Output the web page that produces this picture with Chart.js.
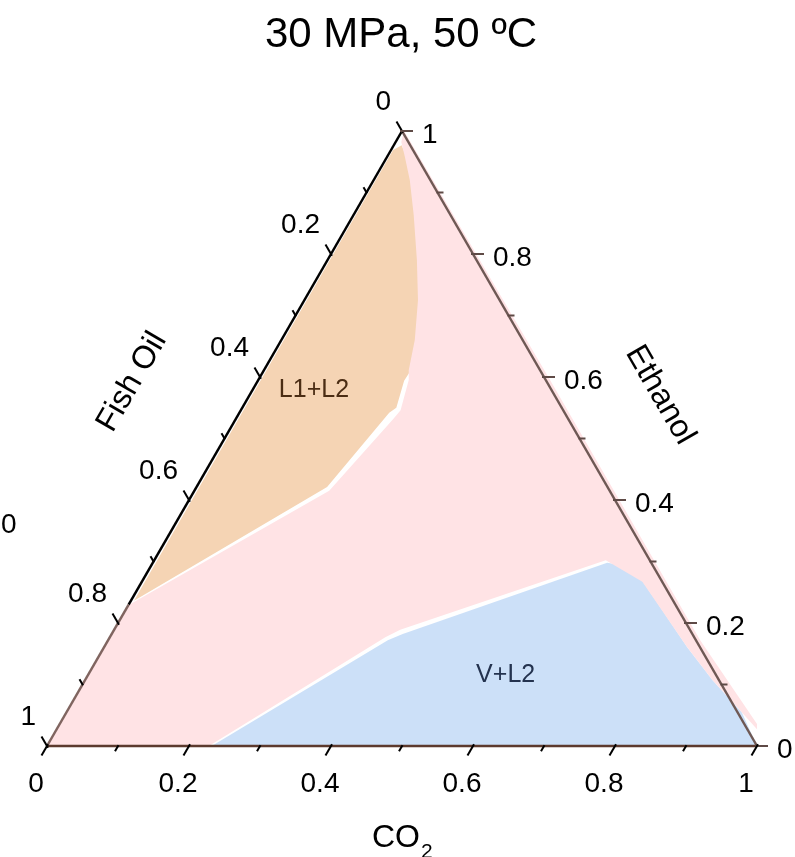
<!DOCTYPE html>
<html>
<head>
<meta charset="utf-8">
<script src="https://cdn.jsdelivr.net/npm/chart.js@4.4.1/dist/chart.umd.min.js"></script>
<style>
  body { margin: 0; background: #fff; }
  canvas { display: block; }
</style>
</head>
<body>
<canvas id="ternary" width="795" height="857"></canvas>
<script>
// mole fractions; Fish Oil = 1 - CO2 - Ethanol
const onePhaseCO2  = [0, 0, 0.228, 0.388, 0.403, 0.636, 0.705, 0.821, 0.884, 0.951, 1.021, 0.834, 0.411, 0.003, 0.008, 0.025, 0.051, 0.085, 0.126, 0.160, 0.188, 0.204, 0.212, 0.225, 0.222, 0.190, 0];
const onePhaseEtOH = [0.229, 0, 0, 0.177, 0.189, 0.302, 0.267, 0.161, 0.107, 0.055, 0, 0.172, 0.595, 1.0, 0.982, 0.958, 0.920, 0.863, 0.790, 0.725, 0.660, 0.611, 0.595, 0.546, 0.532, 0.415, 0.229];

const l1l2CO2  = [0.011, 0.003, 0.0045, 0.184, 0.211, 0.217, 0.206, 0.207, 0.190, 0.161, 0.128, 0.087, 0.053, 0.027, 0.011];
const l1l2EtOH = [0.977, 0.969, 0.236, 0.421, 0.542, 0.550, 0.594, 0.611, 0.660, 0.725, 0.790, 0.863, 0.920, 0.958, 0.977];

const vl2CO2  = [0.232, 0.394, 0.410, 0.640, 0.680, 0.705, 0.821, 0.884, 0.951, 1.0, 0.232];
const vl2EtOH = [0, 0.172, 0.182, 0.298, 0.291, 0.268, 0.161, 0.107, 0.055, 0, 0];

const tickValues = [0, 0.1, 0.2, 0.3, 0.4, 0.5, 0.6, 0.7, 0.8, 0.9, 1];
const tickLabels = ['0', '', '0.2', '', '0.4', '', '0.6', '', '0.8', '', '1'];

const chartTitle = '30 MPa, 50 \u00baC';
const regionNames = ['L1+L2', 'V+L2'];

const H = Math.sqrt(3) / 2;
const FONT = '"Liberation Sans", Arial, sans-serif';

function toPoints(co2, etoh) {
    return co2.map((c, i) => ({ x: c + etoh[i] / 2, y: etoh[i] * H }));
}

function region(co2, etoh, color) {
    return {
        data: toPoints(co2, etoh),
        showLine: true,
        fill: 'shape',
        backgroundColor: color,
        borderWidth: 0,
        pointRadius: 0,
        tension: 0,
        clip: false
    };
}

const ternaryAxes = {
    id: 'ternaryAxes',
    afterDatasetsDraw(chart) {
        const c = chart.ctx;
        const xs = chart.scales.x, ys = chart.scales.y;
        const px = (co2, e) => [xs.getPixelForValue(co2 + e / 2), ys.getPixelForValue(e * H)];

        function line(a, b, color, w) {
            c.strokeStyle = color;
            c.lineWidth = w;
            c.beginPath();
            c.moveTo(a[0], a[1]);
            c.lineTo(b[0], b[1]);
            c.stroke();
        }
        function text(str, x, y, size, align, color) {
            c.font = size + 'px ' + FONT;
            c.textAlign = align;
            c.textBaseline = 'alphabetic';
            c.fillStyle = color || '#000';
            c.fillText(str, x, y);
        }

        c.save();
        c.lineCap = 'butt';
        // edges
        line(px(0, 1), px(0, 0.23), '#000', 2.5);
        line(px(0, 0.23), px(0, 0), '#806560', 2.5);
        line(px(0, 1), px(1, 0), '#6f5955', 2.5);
        line(px(0, 0), px(1, 0), '#5c3a2e', 2.5);

        tickValues.forEach((t, i) => {
            const major = tickLabels[i] !== '';
            const out = major ? 11 : 6, inn = major ? 2 : 1;
            // CO2 (bottom), ticks down-left
            let p = px(t, 0);
            line([p[0] + 0.5 * inn, p[1] - H * inn], [p[0] - 0.5 * out, p[1] + H * out], '#000', 2);
            if (major) text(tickLabels[i], p[0] - 11, p[1] + 46, 28, 'center');
            // Fish Oil (left), ticks up-left
            p = px(0, 1 - t);
            line([p[0] + 0.5 * inn, p[1] + H * inn], [p[0] - 0.5 * out, p[1] - H * out], '#000', 2);
            if (major) text(tickLabels[i], p[0] - 11, p[1] - 21, 28, 'right');
            // Ethanol (right), ticks to the right
            p = px(1 - t, t);
            line([p[0] - inn, p[1]], [p[0] + out, p[1]], '#5e4a46', 2);
            if (major) text(tickLabels[i], p[0] + 20, p[1] + 12, 28, 'left');
        });

        // titles
        text(chartTitle, 401, 47, 42, 'center');
        c.font = '32px ' + FONT;
        const coW = c.measureText('CO').width;
        text('CO', 372, 847, 32, 'left');
        text('2', 372 + coW + 1, 858, 21, 'left');
        c.save();
        c.translate(132, 382);
        c.rotate(-Math.PI / 3);
        c.font = '32px ' + FONT;
        c.textAlign = 'center';
        c.textBaseline = 'middle';
        c.fillStyle = '#000';
        c.fillText('Fish Oil', 0, 0);
        c.restore();
        c.save();
        c.translate(660, 395);
        c.rotate(Math.PI / 3);
        c.font = '32px ' + FONT;
        c.textAlign = 'center';
        c.textBaseline = 'middle';
        c.fillStyle = '#000';
        c.fillText('Ethanol', 0, 0);
        c.restore();
        text('0', 1, 533, 28, 'left');

        // region labels
        let q = px(0.085, 0.582);
        text(regionNames[0], q[0], q[1] + 9, 25, 'center', '#4b2d14');
        q = px(0.586, 0.120);
        text(regionNames[1], q[0], q[1] + 10, 25, 'center', '#24334f');
        c.restore();
    }
};

new Chart(document.getElementById('ternary'), {
    type: 'scatter',
    data: {
        datasets: [
            region(onePhaseCO2, onePhaseEtOH, '#ffe3e5'),
            region(l1l2CO2, l1l2EtOH, '#f5d4b4'),
            region(vl2CO2, vl2EtOH, 'rgba(170,203,243,0.6)')
        ]
    },
    options: {
        responsive: false,
        animation: false,
        devicePixelRatio: 1,
        layout: { padding: { left: 47, right: 38, top: 131, bottom: 111 } },
        plugins: { legend: { display: false }, tooltip: { enabled: false } },
        scales: {
            x: { type: 'linear', min: 0, max: 1, display: false },
            y: { type: 'linear', min: 0, max: H, display: false }
        }
    },
    plugins: [ternaryAxes]
});
</script>
</body>
</html>
